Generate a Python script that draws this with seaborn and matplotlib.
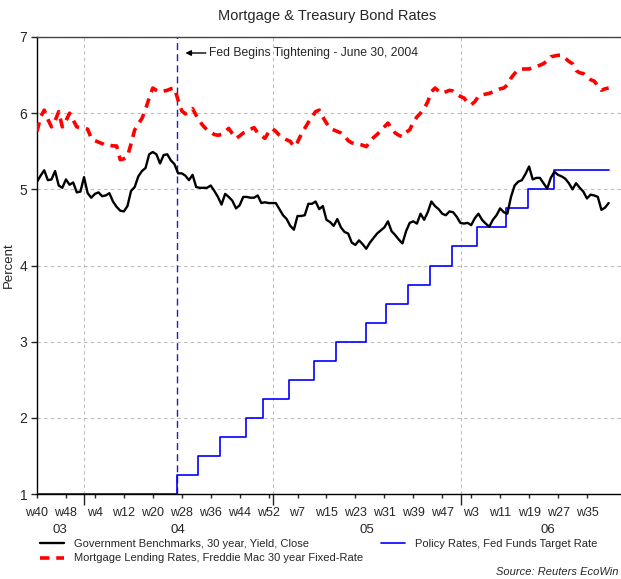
import matplotlib
matplotlib.use('Agg')
import matplotlib.pyplot as plt
import matplotlib.transforms as mtransforms
import pandas as pd
import seaborn as sns

# weekly readings, first observation = Friday 2003-10-03 (w40)
start_date = '2003-10-03'
bond_30y = [5.10, 5.18, 5.25, 5.12, 5.13, 5.24, 5.05, 5.02, 5.13, 5.06,
            5.09, 4.96, 4.97, 5.16, 4.95, 4.89, 4.94, 4.96, 4.91, 4.92,
            4.95, 4.84, 4.77, 4.72, 4.71, 4.78, 4.98, 5.03, 5.17, 5.24,
            5.28, 5.46, 5.49, 5.46, 5.34, 5.45, 5.46, 5.38, 5.33, 5.21,
            5.21, 5.18, 5.12, 5.19, 5.03, 5.02, 5.02, 5.02, 5.05, 4.98,
            4.90, 4.80, 4.94, 4.90, 4.85, 4.75, 4.79, 4.90, 4.90, 4.89,
            4.89, 4.92, 4.82, 4.83, 4.82, 4.82, 4.82, 4.74, 4.66, 4.61,
            4.52, 4.47, 4.65, 4.65, 4.66, 4.81, 4.81, 4.84, 4.74, 4.78,
            4.60, 4.57, 4.52, 4.61, 4.50, 4.44, 4.42, 4.30, 4.27, 4.33,
            4.28, 4.22, 4.30, 4.36, 4.42, 4.46, 4.50, 4.58, 4.45, 4.40,
            4.34, 4.29, 4.45, 4.56, 4.58, 4.55, 4.68, 4.60, 4.70, 4.84,
            4.78, 4.74, 4.68, 4.66, 4.71, 4.70, 4.64, 4.56, 4.55, 4.56,
            4.53, 4.62, 4.68, 4.60, 4.55, 4.51, 4.60, 4.66, 4.75, 4.70,
            4.68, 4.90, 5.05, 5.10, 5.12, 5.20, 5.30, 5.13, 5.15, 5.15,
            5.08, 5.01, 5.15, 5.23, 5.19, 5.17, 5.14, 5.08, 5.00, 5.08,
            5.02, 4.97, 4.88, 4.93, 4.92, 4.90, 4.73, 4.76, 4.82]
mortgage_30y = [5.76, 5.95, 6.04, 5.92, 5.82, 5.90, 6.02, 5.82, 5.90, 6.00,
                5.91, 5.82, 5.81, 5.80, 5.79, 5.67, 5.64, 5.62, 5.60, 5.58,
                5.58, 5.57, 5.57, 5.39, 5.40, 5.43, 5.60, 5.78, 5.86, 5.93,
                6.05, 6.20, 6.33, 6.30, 6.28, 6.29, 6.30, 6.32, 6.33, 6.17,
                6.03, 5.99, 6.02, 6.06, 5.97, 5.89, 5.83, 5.78, 5.75, 5.72,
                5.71, 5.72, 5.76, 5.80, 5.73, 5.67, 5.70, 5.74, 5.76, 5.79,
                5.81, 5.74, 5.70, 5.67, 5.75, 5.80, 5.76, 5.71, 5.67, 5.65,
                5.63, 5.56, 5.62, 5.72, 5.80, 5.88, 5.95, 6.02, 6.04, 5.95,
                5.87, 5.80, 5.78, 5.76, 5.74, 5.70, 5.64, 5.61, 5.60, 5.59,
                5.58, 5.56, 5.62, 5.68, 5.72, 5.77, 5.82, 5.87, 5.80, 5.74,
                5.71, 5.69, 5.75, 5.78, 5.88, 5.95, 6.00, 6.06, 6.15, 6.28,
                6.33, 6.29, 6.26, 6.28, 6.30, 6.29, 6.25, 6.22, 6.20, 6.14,
                6.11, 6.15, 6.22, 6.24, 6.25, 6.26, 6.28, 6.30, 6.32, 6.33,
                6.37, 6.46, 6.52, 6.57, 6.58, 6.58, 6.58, 6.60, 6.61, 6.63,
                6.65, 6.69, 6.74, 6.75, 6.76, 6.76, 6.72, 6.68, 6.65, 6.56,
                6.53, 6.52, 6.48, 6.44, 6.42, 6.36, 6.30, 6.32, 6.33]
fed_dates = ['2003-10-03', '2004-06-30', '2004-08-10', '2004-09-21', '2004-11-10',
             '2004-12-14', '2005-02-02', '2005-03-22', '2005-05-03', '2005-06-30',
             '2005-08-09', '2005-09-20', '2005-11-01', '2005-12-13', '2006-01-31',
             '2006-03-28', '2006-05-10', '2006-06-29', '2006-10-13']
fed_rate = [1.00, 1.25, 1.50, 1.75, 2.00, 2.25, 2.50, 2.75, 3.00, 3.25,
            3.50, 3.75, 4.00, 4.25, 4.50, 4.75, 5.00, 5.25, 5.25]
tightening_date = '2004-06-30'
year_labels = ['03', '04', '05', '06']
label_bond = 'Government Benchmarks, 30 year, Yield, Close'
label_mort = 'Mortgage Lending Rates, Freddie Mac 30 year Fixed-Rate'
label_fed = 'Policy Rates, Fed Funds Target Rate'

weeks = pd.date_range(start_date, periods=len(bond_30y), freq='7D')
df = pd.DataFrame({'date': weeks, 'bond': bond_30y, 'mortgage': mortgage_30y})
fed = pd.DataFrame({'date': pd.to_datetime(fed_dates), 'rate': fed_rate})

sns.set_style('white')
plt.rcParams['font.family'] = ['Liberation Sans', 'DejaVu Sans']

fig = plt.figure(figsize=(6.21, 5.79), dpi=100)
ax = fig.add_axes([37 / 621, 85 / 579, 597 / 621, 457 / 579])

sns.lineplot(data=fed, x='date', y='rate', drawstyle='steps-post', color='#0000ff',
             lw=1.2, ax=ax, label=label_fed, zorder=3)
sns.lineplot(data=df, x='date', y='mortgage', color='#ff0000', lw=2.6,
             linestyle=(0, (2.6, 1.9)), ax=ax, label=label_mort, zorder=4)
sns.lineplot(data=df, x='date', y='bond', color='black', lw=1.7, ax=ax,
             label=label_bond, zorder=5)

vdate = pd.Timestamp(tightening_date)
ax.axvline(vdate, color='#2020b0', lw=1, ls=(0, (5, 3)), zorder=2)
ax.annotate('Fed Begins Tightening - June 30, 2004', xy=(vdate, 6.79),
            xytext=(32, 0), textcoords='offset pixels', ha='left', va='center',
            fontsize=8.7,
            arrowprops=dict(arrowstyle='-|>', color='black', lw=1,
                            mutation_scale=8, shrinkA=0, shrinkB=6))

x_end = weeks[0] + pd.Timedelta(days=1155)
ax.set_xlim(weeks[0], x_end)
ax.set_ylim(1, 7)
ax.set_yticks([1, 2, 3, 4, 5, 6, 7])

tick_dates = weeks[::8]
ax.set_xticks(tick_dates)
ax.set_xticklabels(['w%d' % d.isocalendar().week for d in tick_dates])
year_starts = pd.to_datetime(['2004-01-01', '2005-01-01', '2006-01-01'])
ax.set_xticks(year_starts, minor=True)
ax.tick_params(axis='x', which='major', length=3, width=1, pad=6, labelsize=9, direction='out')
ax.tick_params(axis='x', which='minor', length=8, width=1, direction='out')
ax.tick_params(axis='y', length=4, width=1, pad=3, labelsize=10, direction='out')
ax.tick_params(bottom=True, left=True, which='both')
ax.xaxis.set_minor_formatter(plt.NullFormatter())

ax.grid(False)
ax.grid(axis='y', which='major', color='#bdbdbd', ls=(0, (3, 3)), lw=0.8)
ax.grid(axis='x', which='minor', color='#bdbdbd', ls=(0, (3, 3)), lw=0.8)
for s in ax.spines.values():
    s.set_color('black')
    s.set_linewidth(1)
ax.spines['top'].set_color('#444444')

ax.set_xlabel('')
ax.set_ylabel('Percent', fontsize=9.5)
ax.yaxis.set_label_coords(-0.037, 0.5)

# year labels centred under each visible year span
bounds = [weeks[0]] + list(year_starts) + [x_end]
trans = mtransforms.blended_transform_factory(ax.transData, ax.transAxes)
for lab, a, b in zip(year_labels, bounds[:-1], bounds[1:]):
    ax.text(a + (b - a) / 2, -0.079, lab, transform=trans, ha='center', va='center', fontsize=9.5)

handles, labels = ax.get_legend_handles_labels()
ax.get_legend().remove()
h = dict(zip(labels, handles))
fig.legend([h[label_bond], h[label_mort]], [label_bond, label_mort],
           loc='upper left', bbox_to_anchor=(40 / 621, 1 - 539 / 579),
           frameon=False, fontsize=8, handlelength=2.2, handletextpad=0.9,
           labelspacing=0.4, borderpad=0, borderaxespad=0)
fig.legend([h[label_fed]], [label_fed],
           loc='upper left', bbox_to_anchor=(381 / 621, 1 - 539 / 579),
           frameon=False, fontsize=8, handlelength=2.2, handletextpad=0.9,
           borderpad=0, borderaxespad=0)

fig.text(327 / 621, 1 - 16 / 579, 'Mortgage & Treasury Bond Rates', ha='center', va='center', fontsize=10.5)
fig.text(618 / 621, 1 - 572 / 579, 'Source: Reuters EcoWin', ha='right', va='center',
         fontsize=8, style='italic')

fig.savefig('out.png', dpi=100)
